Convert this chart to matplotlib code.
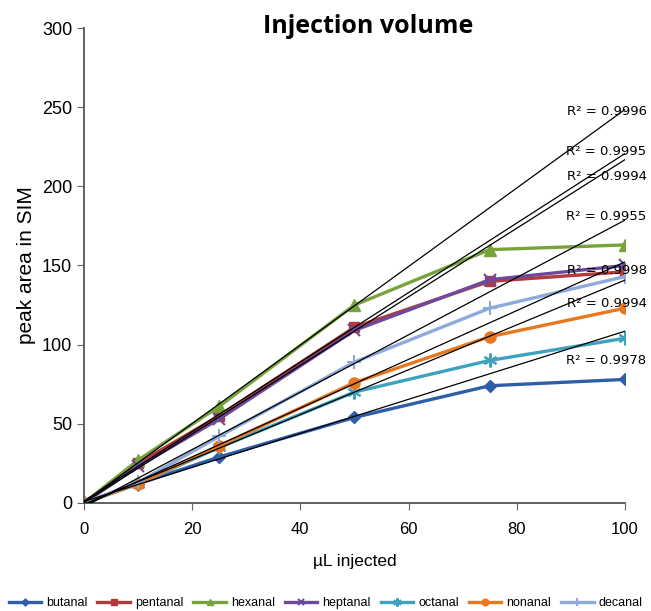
import numpy as np
import matplotlib.pyplot as plt

# injection volume vs peak area (SIM)
volume = [0, 10, 25, 50, 75, 100]
butanal = [0, 12, 29, 54, 74, 78]
pentanal = [0, 25, 55, 111, 140, 146]
hexanal = [0, 27, 61, 125, 160, 163]
heptanal = [0, 23, 53, 109, 141, 150]
octanal = [0, 12, 35, 70, 90, 104]
nonanal = [0, 12, 36, 76, 105, 123]
decanal = [0, 13, 42, 89, 123, 143]

names = ['butanal', 'pentanal', 'hexanal', 'heptanal', 'octanal', 'nonanal', 'decanal']
series = [butanal, pentanal, hexanal, heptanal, octanal, nonanal, decanal]
colors = ['#2f5ea8', '#b23a3a', '#78a33b', '#6c4a9c', '#3ea3bd', '#e8781f', '#8eaadc']
markers = ['D', 's', '^', 'x', (6, 2, 0), 'o', '+']
msizes = [6, 7, 8, 8, 10, 8, 10]

# R^2 labels of the linear trend lines (fitted on 0-50 uL)
r2_labels = ['0.9996', '0.9995', '0.9994', '0.9955', '0.9998', '0.9994', '0.9978']
r2_ypos = [247, 222, 206, 181, 147, 126, 90]

plt.rcParams['font.family'] = ['Liberation Sans', 'DejaVu Sans']
fig = plt.figure(figsize=(6.51, 6.11), dpi=100)
ax = fig.add_axes([0.129, 0.177, 0.831, 0.777])

x = np.array(volume, dtype=float)
for s in series:
    k, b = np.polyfit(x[:4], np.array(s[:4], dtype=float), 1)
    xs = np.array([0, 100])
    ax.plot(xs, k * xs + b, color='black', lw=0.9, zorder=3)

for name, s, c, m, ms in zip(names, series, colors, markers, msizes):
    ax.plot(volume, s, color=c, lw=2.4, marker=m, markersize=ms,
            markeredgewidth=1.5 if m in ('x', '+') or isinstance(m, tuple) else 1,
            label=name, zorder=2)

for lab, yp in zip(r2_labels, r2_ypos):
    ax.text(104, yp, 'R² = ' + lab, ha='right', va='center', fontsize=9.5,
            family='DejaVu Sans', zorder=4, clip_on=False)

ax.set_xlim(0, 100)
ax.set_ylim(0, 300)
ax.set_xticks([0, 20, 40, 60, 80, 100])
ax.set_yticks([0, 50, 100, 150, 200, 250, 300])
ax.tick_params(axis='y', labelsize=13)
ax.tick_params(axis='x', labelsize=12, pad=9)
ax.tick_params(direction='out', length=5, color='#666666')
for sp in ['top', 'right']:
    ax.spines[sp].set_visible(False)
for sp in ['left', 'bottom']:
    ax.spines[sp].set_color('#555555')
    ax.spines[sp].set_linewidth(1.3)

ax.set_xlabel('µL injected', fontsize=12.5, labelpad=12)
ax.set_ylabel('peak area in SIM', fontsize=15, labelpad=4)
fig.text(0.565, 0.957, 'Injection volume', fontsize=18, fontweight='bold',
         family='Open Sans', ha='center', va='center')

fig.legend(loc='lower center', ncol=7, bbox_to_anchor=(0.5, -0.015), frameon=False,
           fontsize=9, handlelength=2.6, columnspacing=0.8, handletextpad=0.4, markerscale=0.6)

fig.savefig('out.png', dpi=100)
